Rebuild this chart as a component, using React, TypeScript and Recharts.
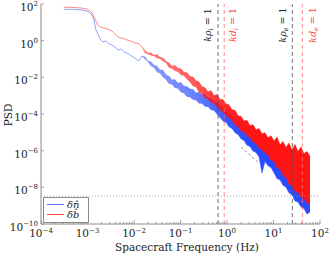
import React from 'react';
import { ComposedChart, Area, Line, XAxis, YAxis, ReferenceLine, Legend } from 'recharts';

// Spacecraft frequency (Hz)
const freq = [
  3.1e-4, 4.2e-4, 5.7e-4, 7.6e-4, 9.8e-4, 1.13e-3, 1.25e-3, 1.38e-3, 1.52e-3, 1.68e-3,
  1.86e-3, 2.15e-3, 2.5e-3, 2.9e-3, 3.36e-3, 3.9e-3, 4.5e-3, 5.25e-3, 6.1e-3, 7.1e-3,
  8.2e-3, 9.5e-3, 1.1e-2, 1.28e-2, 1.49e-2, 1.72e-2, 2.0e-2, 2.32e-2, 2.69e-2, 3.13e-2,
  3.62e-2, 4.2e-2, 4.88e-2, 5.66e-2, 6.56e-2, 7.6e-2, 8.8e-2, 0.1025, 0.119, 0.138,
  0.16, 0.186, 0.215, 0.25, 0.29, 0.336, 0.39, 0.453, 0.525, 0.61,
  0.706, 0.82, 0.95, 1.1, 1.28, 1.49, 1.73, 2.0, 2.32, 2.69,
  3.13, 3.62, 4.2, 4.88, 5.66, 6.56, 7.62, 8.83, 10.25, 11.9,
  13.8, 16.0, 18.6, 21.5, 25.0, 29.0, 33.6, 39.0, 45.3, 52.5, 61,
];

// δn̂ spectrum: upper / lower envelope of the trace
const nHi = [
  51, 51, 50, 47, 41.5, 32, 25, 13.4, 3.8, 2.3,
  1.23, 0.85, 0.96, 0.66, 0.58, 0.45, 0.31, 0.35, 0.24, 0.21,
  0.165, 0.128, 0.1, 0.078, 0.146, 0.13, 0.075, 0.07, 0.045, 0.04,
  0.025, 0.024, 0.0135, 0.0115, 0.0072, 0.0075, 0.0048, 0.0052, 0.0033, 0.0031,
  0.0023, 0.0022, 0.0014, 0.0015, 0.0011, 0.0012, 0.00075, 0.00072, 0.00046, 0.00044,
  0.00028, 0.00023, 0.00015, 0.00014, 8e-5, 6.6e-5, 4.2e-5, 4.0e-5, 2.5e-5, 2.4e-5,
  1.5e-5, 1.45e-5, 9.5e-6, 9e-6, 5.8e-6, 5.4e-6, 3.5e-6, 3.3e-6, 2.1e-6, 2.0e-6,
  1.25e-6, 1.2e-6, 7.8e-7, 7.2e-7, 4.7e-7, 4.4e-7, 2.9e-7, 2.7e-7, 1.8e-7, 1.6e-7, 1.1e-7,
];
const nLo = [
  51, 51, 50, 47, 41.5, 32, 25, 13.4, 3.8, 2.3,
  1.23, 0.85, 0.96, 0.66, 0.58, 0.45, 0.31, 0.35, 0.24, 0.21,
  0.165, 0.128, 0.1, 0.078, 0.146, 0.1, 0.073, 0.042, 0.035, 0.0195,
  0.017, 0.0104, 0.0078, 0.0046, 0.0042, 0.0027, 0.0025, 0.0016, 0.0014, 0.0009,
  0.00085, 0.00061, 0.00058, 0.00039, 0.00038, 0.00026, 0.00026, 0.00017, 0.00016, 0.0001,
  6.5e-5, 4.2e-5, 3.5e-5, 2.0e-5, 1.6e-5, 9.5e-6, 7.5e-6, 4.4e-6, 3.6e-6, 2.0e-6,
  1.7e-6, 9.5e-7, 8e-7, 4.6e-7, 6e-8, 2.6e-7, 1.5e-7, 1.2e-7, 6.2e-8, 3.0e-8,
  2.6e-8, 1.3e-8, 1.0e-8, 5e-9, 4e-9, 1.8e-9, 1.6e-9, 8.5e-10, 7e-10, 3.5e-10, 4.5e-10,
];

// δb̂ spectrum: upper / lower envelope of the trace
const bHi = [
  66, 66, 63, 60, 53, 41, 32, 19.5, 11.8, 7.1,
  5.6, 4.9, 4.6, 4.0, 3.4, 2.3, 1.58, 1.4, 1.3, 1.09,
  0.96, 0.85, 0.74, 0.66, 0.45, 0.28, 0.21, 0.22, 0.16, 0.175,
  0.125, 0.115, 0.075, 0.06, 0.04, 0.046, 0.031, 0.029, 0.019, 0.018,
  0.011, 0.0105, 0.0065, 0.0055, 0.0031, 0.0027, 0.0016, 0.0019, 0.00098, 0.00115,
  0.0006, 0.00062, 0.00036, 0.00032, 0.00017, 0.00016, 8.0e-5, 7.5e-5, 4.2e-5, 4.5e-5,
  2.3e-5, 2.6e-5, 1.4e-5, 1.6e-5, 8.5e-6, 9.5e-6, 5.0e-6, 6.5e-6, 3.4e-6, 5.5e-6,
  2.1e-6, 3.2e-6, 1.5e-6, 2.6e-6, 1.1e-6, 2.2e-6, 9e-7, 1.6e-6, 7e-7, 9e-7, 5e-7,
];
const bLo = [
  66, 66, 63, 60, 53, 41, 32, 19.5, 11.8, 7.1,
  5.6, 4.9, 4.6, 4.0, 3.4, 2.3, 1.58, 1.4, 1.3, 1.09,
  0.96, 0.85, 0.74, 0.66, 0.45, 0.22, 0.19, 0.16, 0.15, 0.115,
  0.105, 0.078, 0.065, 0.034, 0.031, 0.023, 0.021, 0.0137, 0.0124, 0.0081,
  0.0058, 0.0034, 0.0031, 0.0016, 0.00124, 0.00078, 0.00065, 0.00042, 0.00039, 0.00025,
  0.00018, 0.00012, 9.5e-5, 6.3e-5, 4.5e-5, 2.6e-5, 2.1e-5, 1.2e-5, 1.1e-5, 6.5e-6,
  5.3e-6, 3.0e-6, 2.5e-6, 1.4e-6, 1.2e-6, 7.5e-7, 6.2e-7, 3.0e-7, 2.7e-7, 1.2e-7,
  1.0e-7, 4.5e-8, 3.6e-8, 1.5e-8, 1.2e-8, 6e-9, 5.5e-9, 2.8e-9, 2.6e-9, 1.4e-9, 1.2e-9,
];

// power-law guide (dashed gray)
const fitFreq = [2.0, 4.6];
const fitPsd = [1.6e-6, 2.4e-7];

const noiseFloor = 3.3e-9;

const xMajor = [1e-4, 1e-3, 1e-2, 1e-1, 1, 10, 100];
const yMajor = [1e-10, 1e-8, 1e-6, 1e-4, 1e-2, 1, 100];

const markers = [
  { f: 0.64, sym: 'ρ', sub: 'i', color: '#4a4a4a', labelColor: '#222', dx: -10 },
  { f: 0.87, sym: 'd', sub: 'i', color: '#ff6a6a', labelColor: '#ff4040', dx: 8 },
  { f: 25.4, sym: 'ρ', sub: 'e', color: '#4a4a4a', labelColor: '#222', dx: -10 },
  { f: 41.7, sym: 'd', sub: 'e', color: '#ff6a6a', labelColor: '#ff4040', dx: 10 },
];

const seriesNames = ['δn\u0302', 'δb\u0302'];
const seriesColors = ['#2a4bff', '#ff1414'];

const xMinor: number[] = [];
for (let d = 0; d < xMajor.length - 1; d++) {
  for (let m = 2; m <= 9; m++) xMinor.push(xMajor[d] * m);
}
const xTicks = [...xMajor, ...xMinor].sort((a, b) => a - b);

const data = freq.map((f, i) => ({ f, n: [nLo[i], nHi[i]], b: [bLo[i], bHi[i]] }));
const fitData = fitFreq.map((f, i) => ({ f, p: fitPsd[i] }));

const AX = '#8a8a8a';
const FONT = '"DejaVu Serif", serif';

const isMajor = (v: number) => Math.abs(Math.log10(v) - Math.round(Math.log10(v))) < 1e-6;
const expStr = (v: number) => {
  const e = Math.round(Math.log10(v));
  return e < 0 ? '\u2212' + -e : String(e);
};

const BottomTick = (props: any) => {
  const { x, y, payload } = props;
  const v = payload.value;
  const major = isMajor(v);
  return (
    <g>
      <line x1={x} x2={x} y1={y} y2={y - (major ? 4 : 2)} stroke={AX} strokeWidth={0.8} />
      {major && (
        <text x={x} y={y + 13} textAnchor="middle" fontFamily={FONT} fontSize={10.5} fill="#222">
          10<tspan fontSize={7} dy={-4.5}>{expStr(v)}</tspan>
        </text>
      )}
    </g>
  );
};

const TopTick = (props: any) => {
  const { x, y, payload } = props;
  const major = isMajor(payload.value);
  return <line x1={x} x2={x} y1={y} y2={y + (major ? 4 : 2)} stroke={AX} strokeWidth={0.8} />;
};

const LeftTick = (props: any) => {
  const { x, y, payload } = props;
  const v = payload.value;
  return (
    <g>
      <line x1={x} x2={x + 3} y1={y} y2={y} stroke={AX} strokeWidth={0.8} />
      <text x={x - 3} y={y + 7} textAnchor="end" fontFamily={FONT} fontSize={10.5} fill="#222">
        10<tspan fontSize={7} dy={-5}>{expStr(v)}</tspan>
      </text>
    </g>
  );
};

const RightTick = (props: any) => {
  const { x, y } = props;
  return <line x1={x} x2={x - 3} y1={y} y2={y} stroke={AX} strokeWidth={0.8} />;
};

const makeMarkerLabel = (m: typeof markers[number]) => (props: any) => {
  const vb = props.viewBox || {};
  const cx = (vb.x ?? 0) + m.dx + 3.5;
  const cy = (vb.y ?? 0) + 21;
  return (
    <text
      transform={`translate(${cx},${cy}) rotate(-90)`}
      textAnchor="middle"
      fontFamily={FONT}
      fontSize={9.5}
      fill={m.labelColor}
    >
      <tspan fontStyle="italic">k{m.sym}</tspan>
      <tspan fontStyle="italic" fontSize={6.5} dy={2}>{m.sub}</tspan>
      <tspan dy={-2}> = 1</tspan>
    </text>
  );
};

const LegendBox = () => (
  <svg width={46} height={26} style={{ display: 'block' }}>
    <rect x={0.5} y={0.5} width={45} height={25} fill="#fff" stroke={AX} strokeWidth={1} />
    {seriesNames.map((s, i) => (
      <g key={s}>
        <line x1={4} x2={21} y1={7.5 + i * 10} y2={7.5 + i * 10} stroke={seriesColors[i]} strokeWidth={0.8} />
        <text x={24} y={11 + i * 10} fontFamily={FONT} fontStyle="italic" fontSize={10} fill="#222">
          {s}
        </text>
      </g>
    ))}
  </svg>
);

export default function App() {
  return (
    <div style={{ position: 'absolute', left: 0, top: 0, width: 329, height: 255, background: '#fff' }}>
      <ComposedChart width={329} height={255} data={data} margin={{ top: 4, right: 9, bottom: 0, left: 0 }}>
        <defs>
          <linearGradient id="bandFade" gradientUnits="userSpaceOnUse" x1={41} y1={0} x2={320} y2={0}>
            <stop offset="0" stopColor="#fff" stopOpacity={0.55} />
            <stop offset="0.4" stopColor="#fff" stopOpacity={0.55} />
            <stop offset="0.55" stopColor="#fff" stopOpacity={0.7} />
            <stop offset="0.66" stopColor="#fff" stopOpacity={0.92} />
            <stop offset="0.75" stopColor="#fff" stopOpacity={1} />
            <stop offset="1" stopColor="#fff" stopOpacity={1} />
          </linearGradient>
          <mask id="bandMask" maskUnits="userSpaceOnUse" x={0} y={0} width={329} height={255}>
            <rect x={0} y={0} width={329} height={255} fill="url(#bandFade)" />
          </mask>
        </defs>
        <XAxis
          dataKey="f"
          type="number"
          scale="log"
          domain={[1e-4, 100]}
          allowDataOverflow
          ticks={xTicks}
          interval={0}
          tick={<BottomTick />}
          tickSize={0}
          tickMargin={0}
          tickLine={false}
          height={31}
          axisLine={{ stroke: AX }}
          label={() => (
            <text x={187} y={250.5} textAnchor="middle" fontFamily={FONT} fontSize={10.5} fill="#222">
              Spacecraft Frequency (Hz)
            </text>
          )}
        />
        <XAxis
          xAxisId="top"
          orientation="top"
          dataKey="f"
          type="number"
          scale="log"
          domain={[1e-4, 100]}
          allowDataOverflow
          ticks={xTicks}
          interval={0}
          tick={<TopTick />}
          tickSize={0}
          tickMargin={0}
          tickLine={false}
          height={0}
          axisLine={{ stroke: AX }}
        />
        <YAxis
          type="number"
          scale="log"
          domain={[1e-10, 100]}
          allowDataOverflow
          ticks={yMajor}
          interval={0}
          tick={<LeftTick />}
          tickSize={0}
          tickMargin={0}
          tickLine={false}
          width={41}
          axisLine={{ stroke: AX }}
          label={() => (
            <text transform="translate(12,115) rotate(-90)" textAnchor="middle" fontFamily={FONT} fontSize={10.5} fill="#222">
              PSD
            </text>
          )}
        />
        <YAxis
          yAxisId="right"
          orientation="right"
          type="number"
          scale="log"
          domain={[1e-10, 100]}
          allowDataOverflow
          ticks={yMajor}
          interval={0}
          tick={<RightTick />}
          tickSize={0}
          tickMargin={0}
          tickLine={false}
          width={0}
          axisLine={{ stroke: AX }}
        />
        <ReferenceLine y={noiseFloor} stroke="#999" strokeDasharray="1 2" strokeWidth={0.8} />
        <Line
          data={fitData}
          dataKey="p"
          stroke="#777"
          strokeDasharray="3 2"
          strokeWidth={0.8}
          dot={false}
          isAnimationActive={false}
          legendType="none"
        />
        <Area
          dataKey="n"
          stroke={seriesColors[0]}
          strokeWidth={0.6}
          strokeOpacity={0.85}
          fill={seriesColors[0]}
          fillOpacity={1}
          mask="url(#bandMask)"
          type="linear"
          isAnimationActive={false}
          dot={false}
          activeDot={false}
        />
        <Area
          dataKey="b"
          stroke={seriesColors[1]}
          strokeWidth={0.6}
          strokeOpacity={0.85}
          fill={seriesColors[1]}
          fillOpacity={1}
          mask="url(#bandMask)"
          type="linear"
          isAnimationActive={false}
          dot={false}
          activeDot={false}
        />
        {markers.map((m) => (
          <ReferenceLine
            key={m.sym + m.sub}
            x={m.f}
            stroke={m.color}
            strokeDasharray="4 3"
            strokeWidth={0.8}
            label={makeMarkerLabel(m)}
          />
        ))}
        <Legend
          layout="vertical"
          align="center"
          verticalAlign="middle"
          wrapperStyle={{ left: 43, top: 197, width: 46, height: 26 }}
          content={() => <LegendBox />}
        />
      </ComposedChart>
    </div>
  );
}
